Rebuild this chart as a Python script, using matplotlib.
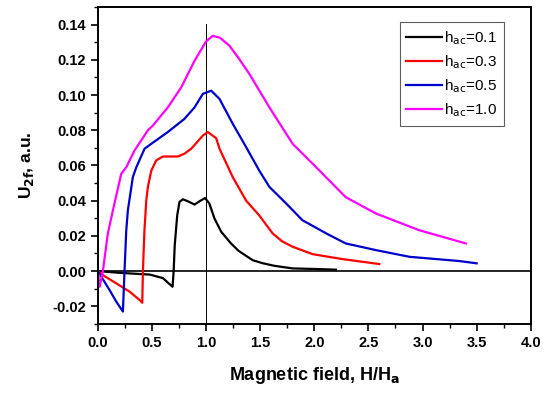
import numpy as np
import matplotlib
matplotlib.use("Agg")
import matplotlib.pyplot as plt
from matplotlib.ticker import MultipleLocator

plt.rcParams['font.family'] = ['Liberation Sans', 'DejaVu Sans']

# h_ac = 0.1
x_01 = [0.0, 0.2, 0.48, 0.60, 0.69, 0.70, 0.71, 0.733, 0.754, 0.785, 0.83, 0.893,
        0.94, 0.99, 1.03, 1.077, 1.14, 1.23, 1.30, 1.43, 1.52, 1.63, 1.80, 2.0, 2.2]
y_01 = [0.0, -0.001, -0.002, -0.004, -0.0089, 0.0, 0.0147, 0.0317, 0.0393, 0.0408, 0.0397, 0.0378,
        0.0397, 0.0415, 0.0384, 0.0299, 0.0223, 0.0157, 0.0115, 0.0062, 0.0045, 0.003, 0.0015, 0.0012, 0.0008]

# h_ac = 0.3
x_03 = [0.0, 0.046, 0.17, 0.293, 0.385, 0.41, 0.416, 0.43, 0.447, 0.462, 0.493, 0.539, 0.60,
        0.739, 0.80, 0.862, 0.97, 1.016, 1.093, 1.124, 1.246, 1.37, 1.49, 1.615, 1.70, 1.80, 1.985,
        2.26, 2.6]
y_03 = [0.0, -0.0023, -0.007, -0.0117, -0.0164, -0.018, 0.0, 0.023, 0.040, 0.0478, 0.057, 0.0629, 0.0651,
        0.0651, 0.0667, 0.0695, 0.077, 0.079, 0.0755, 0.0695, 0.0534, 0.040, 0.0317, 0.0214, 0.0170, 0.0138,
        0.0096, 0.0068, 0.004]

# h_ac = 0.5
x_05 = [0.0, 0.108, 0.17, 0.231, 0.246, 0.262, 0.277, 0.323, 0.355, 0.431, 0.493, 0.646, 0.80,
        0.893, 0.97, 1.047, 1.124, 1.246, 1.37, 1.49, 1.585, 1.74, 1.89, 2.11, 2.29, 2.57,
        2.88, 3.34, 3.5]
y_05 = [0.0, -0.0108, -0.0174, -0.023, 0.0, 0.023, 0.0346, 0.0534, 0.059, 0.0695, 0.0723, 0.079, 0.0865,
        0.093, 0.1007, 0.1025, 0.0978, 0.0837, 0.0704, 0.0572, 0.0478, 0.0384, 0.0289, 0.0214, 0.0157, 0.0119,
        0.0081, 0.0057, 0.0044]

# h_ac = 1.0
x_10 = [0.0, 0.016, 0.046, 0.092, 0.139, 0.216, 0.262, 0.339, 0.462, 0.508, 0.646, 0.77, 0.893,
        1.0, 1.062, 1.13, 1.216, 1.30, 1.40, 1.585, 1.80, 2.017, 2.29, 2.57, 2.97, 3.4]
y_10 = [0.0, -0.0089, 0.0, 0.0214, 0.0346, 0.0553, 0.059, 0.0686, 0.080, 0.0827, 0.093, 0.1044, 0.1195,
        0.1305, 0.1337, 0.1325, 0.128, 0.121, 0.112, 0.093, 0.0723, 0.059, 0.042, 0.0327, 0.0232, 0.0157]

series = [
    (x_01, y_01, "black", "h$_\\mathrm{ac}$=0.1"),
    (x_03, y_03, "red", "h$_\\mathrm{ac}$=0.3"),
    (x_05, y_05, "#0000cc", "h$_\\mathrm{ac}$=0.5"),
    (x_10, y_10, "magenta", "h$_\\mathrm{ac}$=1.0"),
]

fig = plt.figure(figsize=(5.5, 3.94), dpi=100)
ax = fig.add_axes([0.178, 0.178, 0.787, 0.804])

ax.axhline(0, color="black", lw=1.2, zorder=1)
ax.plot([1.0, 1.0], [-0.03, 0.1405], color="black", lw=0.7, zorder=1)

for x, y, c, lab in series:
    ax.plot(x, y, color=c, lw=1.6, label=lab, zorder=2)

ax.set_xlim(0, 4)
ax.set_ylim(-0.03, 0.15)
ax.xaxis.set_major_locator(MultipleLocator(0.5))
ax.xaxis.set_minor_locator(MultipleLocator(0.25))
ax.yaxis.set_major_locator(MultipleLocator(0.02))
ax.yaxis.set_minor_locator(MultipleLocator(0.01))
ax.xaxis.set_major_formatter(plt.FormatStrFormatter("%.1f"))
ax.yaxis.set_major_formatter(plt.FormatStrFormatter("%.2f"))
ax.tick_params(which="major", direction="out", length=5, width=1.2, labelsize=10.5)
ax.tick_params(which="minor", direction="out", length=3, width=1.0)
for lbl in ax.get_xticklabels() + ax.get_yticklabels():
    lbl.set_fontweight("bold")
for sp in ax.spines.values():
    sp.set_linewidth(1.4)

ax.set_xlabel("Magnetic field, H/H$_\\mathbf{a}$", fontsize=13, fontweight="bold", labelpad=11)
ax.set_ylabel("U$_\\mathbf{2f}$, a.u.", fontsize=12.5, fontweight="bold", labelpad=12)

leg = ax.legend(loc="upper right", bbox_to_anchor=(0.9376, 0.9527), fontsize=11, frameon=True,
                fancybox=False, edgecolor="#333333", handlelength=2.3, handletextpad=0.15,
                labelspacing=0.42, borderpad=0.45, borderaxespad=0)
leg.get_frame().set_linewidth(0.8)

fig.savefig("out.png", dpi=100)
